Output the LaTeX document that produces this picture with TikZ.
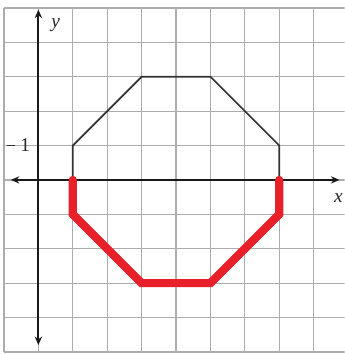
\documentclass[tikz,border=0pt]{standalone}
\usepackage{fontspec}
\setmainfont{Liberation Serif}
\usetikzlibrary{arrows.meta}
\definecolor{redc}{HTML}{E8202A}
\begin{document}
\begin{tikzpicture}[
  gridline/.style={draw=black!32, line width=1pt},
  axisline/.style={draw=black!90, line width=1.7pt, -{Stealth[length=7pt,width=6pt]}},
  blackpath/.style={draw=black!80, line width=1.4pt},
  redpath/.style={draw=redc, line width=6.8pt, line cap=round},
  lbl/.style={font=\fontsize{16}{18}\selectfont, text=black!85, inner sep=0pt}
]
\useasboundingbox (-1.116,-5.06) rectangle (8.9,5.23);
\clip (-1.116,-5.06) rectangle (8.9,5.23);
\fill[white] (-1.116,-5.06) rectangle (8.9,5.23);
\draw[gridline] (-1,-5) grid (9,5);
% axes
\coordinate (o) at (0,0);
\coordinate (xl) at (-0.8,0);
\coordinate (xr) at (8.75,0);
\coordinate (yb) at (0,-4.8);
\coordinate (yt) at (0,4.95);
\draw[axisline] (o) -- (xr);
\draw[axisline] (o) -- (xl);
\draw[axisline] (o) -- (yt);
\draw[axisline] (o) -- (yb);
\node[lbl, font=\fontsize{16}{18}\selectfont\itshape] (ylab) at (0.5,4.5) {y};
\node[lbl, font=\fontsize{16}{18}\selectfont\itshape] (xlab) at (8.72,-0.52) {x};
\draw[draw=black!80, line width=0.9pt] (-0.9,1) -- (-0.68,1);
\node[lbl] (one) at (-0.38,1) {1};
% polygon vertices
\coordinate (a) at (1,0);
\coordinate (b) at (1,1);
\coordinate (c) at (3,3);
\coordinate (d) at (5,3);
\coordinate (e) at (7,1);
\coordinate (f) at (7,0);
\coordinate (b2) at (1,-1);
\coordinate (c2) at (3,-3);
\coordinate (d2) at (5,-3);
\coordinate (e2) at (7,-1);
\draw[blackpath] (a) -- (b) -- (c) -- (d) -- (e) -- (f);
\draw[redpath] (a) -- (b2) -- (c2) -- (d2) -- (e2) -- (f);
\end{tikzpicture}
\end{document}
